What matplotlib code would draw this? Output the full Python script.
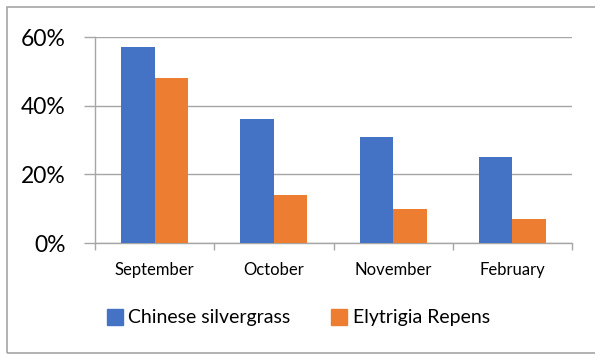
import matplotlib.pyplot as plt
import numpy as np
from matplotlib.lines import Line2D
from matplotlib.patches import Rectangle
from matplotlib.ticker import FuncFormatter

months = ["September", "October", "November", "February"]
silvergrass = [57, 36, 31, 25]
elytrigia = [48, 14, 10, 7]
series_names = ["Chinese silvergrass", "Elytrigia Repens"]
colors = ["#4472C4", "#ED7D31"]

plt.rcParams['font.family'] = ['Lato', 'DejaVu Sans']

fig = plt.figure(figsize=(5.95, 3.54), dpi=100)
ax = fig.add_axes([95 / 595, 1 - 243 / 354, 477 / 595, 206 / 354])

x = np.arange(len(months))
w = 0.28
ax.bar(x - w / 2, silvergrass, w, color=colors[0], zorder=3)
ax.bar(x + w / 2, elytrigia, w, color=colors[1], zorder=3)

ax.set_xlim(-0.5, len(months) - 0.5)
ax.set_ylim(0, 60)
ax.set_yticks([0, 20, 40, 60])
ax.yaxis.set_major_formatter(FuncFormatter(lambda v, _: f"{v:.0f}%"))
ax.grid(axis='y', color='#a6a6a6', linewidth=1.0, zorder=0)
ax.tick_params(axis='y', length=8, width=1.0, color='#a6a6a6', labelsize=16.5, pad=13)

# category labels centred, tick marks on the category boundaries
ax.set_xticks(x)
ax.set_xticklabels(months)
ax.set_xticks(np.arange(-0.5, len(months)), minor=True)
ax.tick_params(axis='x', which='major', length=0, labelsize=12, pad=14)
ax.tick_params(axis='x', which='minor', length=5, width=1.0, color='#a6a6a6')

for side in ['top', 'right']:
    ax.spines[side].set_visible(False)
for side in ['left', 'bottom']:
    ax.spines[side].set_color('#a6a6a6')
    ax.spines[side].set_linewidth(1.0)

handles = [Line2D([], [], marker='s', linestyle='none', markersize=11,
                  markerfacecolor=c, markeredgecolor=c) for c in colors]
fig.legend(handles, series_names, loc='center', bbox_to_anchor=(0.5, 1 - 318 / 354),
           ncol=2, frameon=False, fontsize=14, handletextpad=0.2, columnspacing=2.0,
           handlelength=1.0)

# outer chart border
fig.patches.append(Rectangle((7 / 595, 1 - 353 / 354), 600 / 595, 346 / 354,
                             transform=fig.transFigure, fill=False,
                             edgecolor='#a6a6a6', linewidth=1.2))

fig.savefig("out.png", dpi=100)
